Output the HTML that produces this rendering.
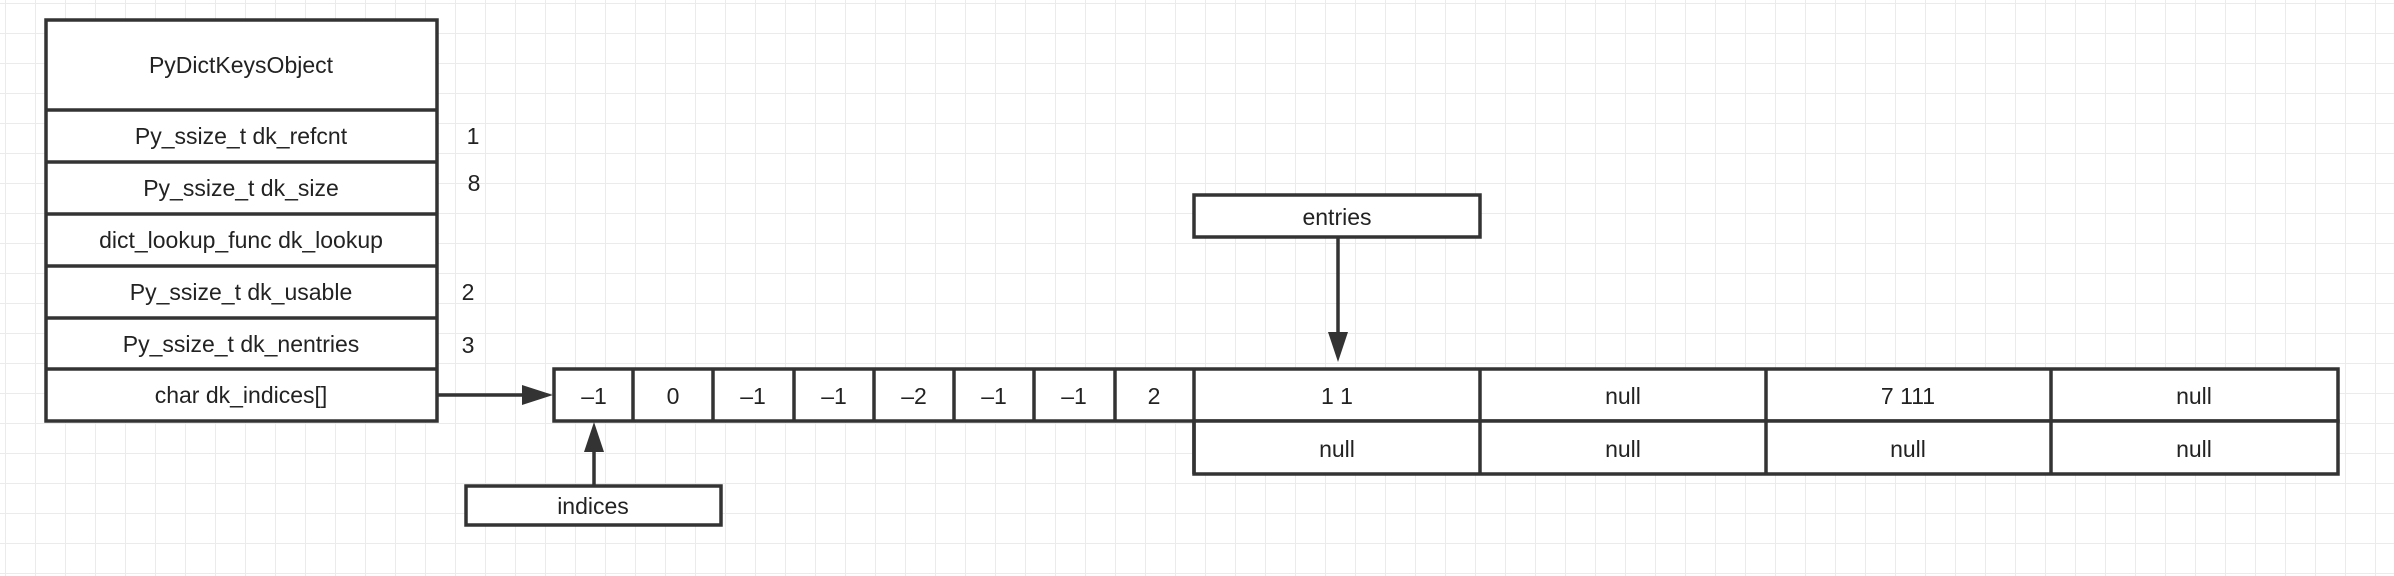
<!DOCTYPE html>
<html><head><meta charset="utf-8"><style>
html,body{margin:0;padding:0;background:#fff;}
svg{display:block;}
text{font-family:"Liberation Sans",sans-serif;font-size:23px;fill:#222;text-anchor:middle;dominant-baseline:central;}
</style></head><body>
<svg width="2394" height="576" viewBox="0 0 2394 576" xmlns="http://www.w3.org/2000/svg">
<defs>
<pattern id="g" x="5" y="3" width="30" height="30" patternUnits="userSpaceOnUse">
<path d="M0 0V30M0 0H30" stroke="#ebebeb" stroke-width="2" fill="none"/>
</pattern>
</defs>
<rect width="2394" height="576" fill="url(#g)"/>
<g fill="#fff" stroke="#333" stroke-width="3.5">
<rect x="46" y="20" width="391" height="401"/>
<path d="M46 110H437M46 162H437M46 214H437M46 266H437M46 318H437M46 369H437" fill="none"/>
<rect x="554" y="369" width="1784" height="52"/>
<rect x="1194" y="421" width="1144" height="53"/>
<path d="M633 369V421M713 369V421M794 369V421M874 369V421M954 369V421M1034 369V421M1115 369V421M1194 369V474M1480 369V474M1766 369V474M2051 369V474" fill="none"/>
<rect x="1194" y="195" width="286" height="42"/>
<rect x="466" y="486" width="255" height="39"/>
</g>
<g stroke="#333" stroke-width="3.5" fill="none">
<path d="M437 395H525"/>
<path d="M1338 237V340"/>
<path d="M594 486V450"/>
</g>
<g fill="#333">
<path d="M553 395L522 385V405Z"/>
<path d="M1338 362L1328 332H1348Z"/>
<path d="M594 422L584 452H604Z"/>
</g>
<text x="241" y="65">PyDictKeysObject</text>
<text x="241" y="136">Py_ssize_t dk_refcnt</text>
<text x="241" y="188">Py_ssize_t dk_size</text>
<text x="241" y="240">dict_lookup_func dk_lookup</text>
<text x="241" y="292">Py_ssize_t dk_usable</text>
<text x="241" y="344">Py_ssize_t dk_nentries</text>
<text x="241" y="395">char dk_indices[]</text>
<text x="473" y="136">1</text>
<text x="474" y="183">8</text>
<text x="468" y="292">2</text>
<text x="468" y="345">3</text>
<text x="594" y="396">–1</text>
<text x="673" y="396">0</text>
<text x="753" y="396">–1</text>
<text x="834" y="396">–1</text>
<text x="914" y="396">–2</text>
<text x="994" y="396">–1</text>
<text x="1074" y="396">–1</text>
<text x="1154" y="396">2</text>
<text x="1337" y="396">1 1</text>
<text x="1623" y="396">null</text>
<text x="1908" y="396">7 111</text>
<text x="2194" y="396">null</text>
<text x="1337" y="449">null</text>
<text x="1623" y="449">null</text>
<text x="1908" y="449">null</text>
<text x="2194" y="449">null</text>
<text x="1337" y="217">entries</text>
<text x="593" y="506">indices</text>
</svg>
</body></html>
